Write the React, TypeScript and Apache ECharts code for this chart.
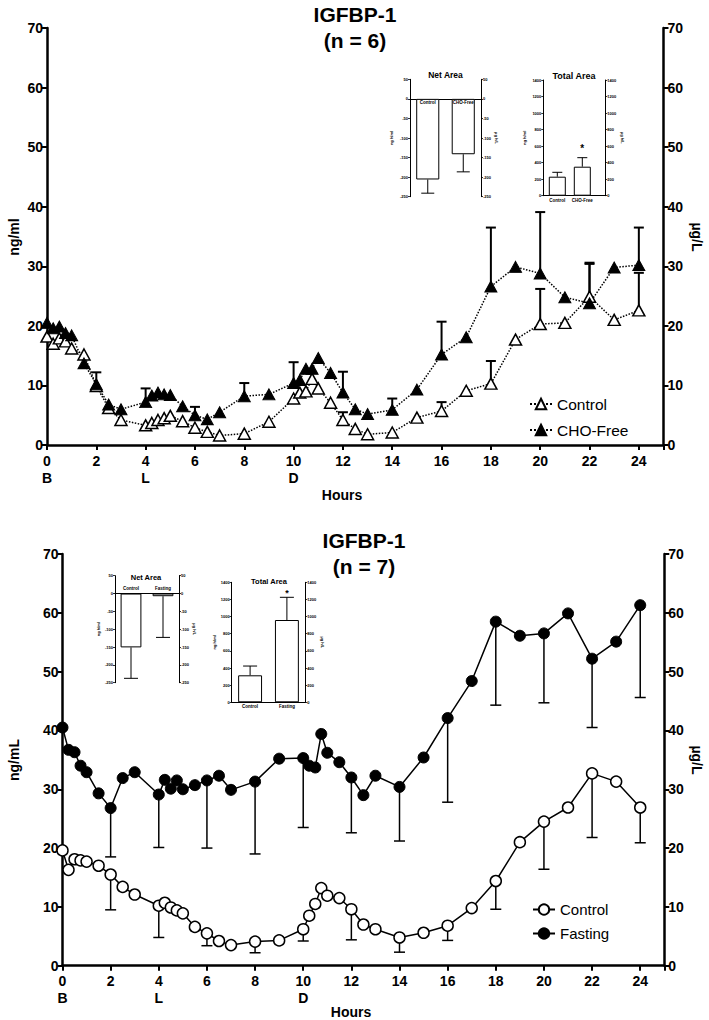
import React, { useEffect, useRef } from 'react';
import * as echarts from 'echarts';

const FONT = '"Liberation Sans", Arial, sans-serif';

// sampling times (hours)
const hours = [0, 0.25, 0.5, 0.75, 1, 1.5, 2, 2.5, 3, 4, 4.25, 4.5, 4.75, 5, 5.5, 6, 6.5, 7, 8, 9, 10, 10.25, 10.5, 10.75, 11, 11.5, 12, 12.5, 13, 14, 15, 16, 17, 18, 19, 20, 21, 22, 23, 24];
const mealLabels: Record<number, string> = { 0: 'B', 4: 'L', 10: 'D' };

// top panel (n = 6)
const topControl = [18.2, 17.0, 17.9, 17.4, 16.2, 15.2, 9.9, 6.2, 4.2, 3.3, 3.7, 4.2, 4.5, 4.9, 4.0, 2.9, 2.2, 1.6, 1.9, 3.9, 7.8, 8.8, 9.0, 11.1, 9.5, 7.1, 4.2, 2.7, 1.8, 2.1, 4.6, 5.7, 9.1, 10.3, 17.7, 20.3, 20.5, 24.9, 21.0, 22.6];
const topChoFree = [20.5, 19.6, 19.9, 18.8, 18.4, 13.7, 10.2, 6.8, 6.0, 7.2, 8.3, 8.8, 8.5, 8.4, 6.5, 5.0, 4.3, 5.5, 8.2, 8.5, 10.4, 10.9, 12.8, 12.8, 14.6, 12.1, 8.8, 6.0, 5.2, 5.9, 9.3, 15.2, 18.1, 26.6, 29.9, 28.8, 24.8, 23.8, 29.8, 30.2];
const topControlErrHours = [12, 16, 18, 20, 22, 24];
const topControlErrEnd = [5.5, 7.2, 14.1, 26.2, 30.4, 28.9];
const topChoErrHours = [2, 4, 6, 8, 10, 12, 14, 16, 18, 20, 22, 24];
const topChoErrEnd = [12.2, 9.5, 6.4, 10.4, 13.9, 12.3, 7.8, 20.7, 36.5, 39.1, 30.6, 36.5];

// bottom panel (n = 7)
const botControl = [19.6, 16.3, 18.1, 17.9, 17.7, 17.0, 15.5, 13.4, 12.1, 10.2, 10.7, 9.9, 9.4, 8.9, 6.6, 5.5, 4.2, 3.5, 4.1, 4.3, 6.2, 8.5, 10.5, 13.2, 11.9, 11.5, 9.6, 7.0, 6.2, 4.8, 5.6, 6.8, 9.8, 14.4, 21.0, 24.5, 26.9, 32.7, 31.3, 26.9];
const botFasting = [40.5, 36.7, 36.3, 34.0, 32.9, 29.3, 26.8, 31.9, 32.9, 29.1, 31.6, 30.1, 31.5, 30.0, 30.7, 31.5, 32.3, 29.9, 31.3, 35.2, 35.3, 34.0, 33.7, 39.4, 36.2, 34.6, 32.0, 29.0, 32.3, 30.4, 35.4, 42.1, 48.4, 58.5, 56.1, 56.5, 59.9, 52.2, 55.1, 61.3];
const botErrHours = [2, 4, 6, 8, 10, 12, 14, 16, 18, 20, 22, 24];
const botControlErrEnd = [9.5, 4.8, 3.4, 2.2, 4.2, 4.4, 2.3, 4.3, 9.6, 16.4, 21.8, 20.9];
const botFastingErrEnd = [18.5, 20.1, 20.0, 19.0, 23.5, 22.6, 21.2, 27.8, 44.3, 44.7, 40.5, 45.6];

// insets
const topNetCats = ['Control', 'CHO-Free'];
const topNetMean = [-206, -141.5];
const topNetErr = [-241, -186.5];
const topTotalCats = ['Control', 'CHO-Free'];
const topTotalPos = [0, 1];
const topTotalMean = [230, 351];
const topTotalErr = [283, 460];
const topTotalSig = ['', '*'];
const botNetCats = ['Control', 'Fasting'];
const botNetMean = [-151, -7.5];
const botNetErr = [-237.7, -123];
const botTotalCats = ['Control', 'Fasting'];
const botTotalMean = [315, 960];
const botTotalErr = [423, 1225];
const botTotalSig = ['', '*'];

const pairs = (xs: number[], ys: number[]) => xs.map((x, i) => [x, ys[i]]);
const errData = (errHours: number[], ends: number[], means: number[]) =>
  errHours.map((h, i) => [h, means[hours.indexOf(h)], ends[i]]);

function errRender(capHalf: number, lw: number, sig?: string[], sigDy = 6, sigFont = 9) {
  return (params: any, api: any) => {
    const p1 = api.coord([api.value(0), api.value(1)]);
    const p2 = api.coord([api.value(0), api.value(2)]);
    const st = { stroke: '#000', lineWidth: lw };
    const children: any[] = [
      { type: 'line', shape: { x1: p1[0], y1: p1[1], x2: p2[0], y2: p2[1] }, style: st },
      { type: 'line', shape: { x1: p2[0] - capHalf, y1: p2[1], x2: p2[0] + capHalf, y2: p2[1] }, style: st },
    ];
    if (sig && sig[params.dataIndex]) {
      children.push({
        type: 'text', x: p2[0], y: p2[1] - sigDy,
        style: { text: sig[params.dataIndex], fill: '#000', font: `bold ${sigFont}px ${FONT}`, textAlign: 'center', textVerticalAlign: 'middle' },
      });
    }
    return { type: 'group', children };
  };
}

function catLabelRender(cats: string[], dy: number) {
  return (params: any, api: any) => {
    const p = api.coord([api.value(0), 0]);
    return {
      type: 'text', x: p[0], y: p[1] + dy,
      style: { text: cats[params.dataIndex], fill: '#000', font: `bold 4.5px ${FONT}`, textAlign: 'center', textVerticalAlign: 'middle' },
    };
  };
}

function mainX(gridIndex: number) {
  return {
    type: 'value', gridIndex, min: 0, max: 25, interval: 2,
    axisLine: { onZero: false, lineStyle: { color: '#000', width: 2.5 } },
    axisTick: { length: 5, lineStyle: { color: '#000', width: 2 } },
    axisLabel: {
      color: '#000', fontSize: 14, fontWeight: 'bold', fontFamily: FONT, margin: 7, lineHeight: 17,
      formatter: (v: number) => (v > 24 ? '' : mealLabels[v] ? `${v}\n${mealLabels[v]}` : `${v}`),
    },
    splitLine: { show: false },
  };
}
function mainY(gridIndex: number, side: string) {
  return {
    type: 'value', gridIndex, min: 0, max: 70, interval: 10, position: side,
    axisLine: { show: true, onZero: false, lineStyle: { color: '#000', width: 2.5 } },
    axisTick: { show: true, length: 5, lineStyle: { color: '#000', width: 2 } },
    axisLabel: { color: '#000', fontSize: 14, fontWeight: 'bold', fontFamily: FONT, margin: 4 },
    splitLine: { show: false },
  };
}
function insetY(gridIndex: number, min: number, max: number, interval: number, side: string, name: string, nameGap: number) {
  return {
    type: 'value', gridIndex, min, max, interval, position: side,
    name, nameLocation: 'middle', nameGap, nameRotate: side === 'left' ? 90 : -90,
    nameTextStyle: { fontSize: 4, fontWeight: 'bold', color: '#000', fontFamily: FONT },
    axisLine: { show: true, onZero: false, lineStyle: { color: '#000', width: 1 } },
    axisTick: { show: true, length: 2, lineStyle: { color: '#000', width: 0.8 } },
    axisLabel: { fontSize: 4, fontWeight: 'bold', color: '#000', margin: 2, fontFamily: FONT, formatter: (v: number) => String(v) },
    splitLine: { show: false },
  };
}
function insetCatX(gridIndex: number, cats: string[], pos: string, yIdx: number, showLabels: boolean) {
  return {
    type: 'category', gridIndex, data: cats, position: pos,
    axisLine: { onZero: true, onZeroAxisIndex: yIdx, lineStyle: { color: '#000', width: 1 } },
    axisTick: { show: false },
    axisLabel: { show: showLabels, fontSize: 4.5, fontWeight: 'bold', color: '#000', margin: 2, fontFamily: FONT },
    splitLine: { show: false },
  };
}

const barStyle = { color: '#fff', borderColor: '#000', borderWidth: 1 };

const text = (x: number, y: number, t: string, size: number, bold = true, rotation = 0) => ({
  type: 'text', x, y, rotation,
  style: { text: t, fill: '#000', font: `${bold ? 'bold ' : ''}${size}px ${FONT}`, textAlign: 'center', textVerticalAlign: 'middle' },
});

export default function App() {
  const ref = useRef<HTMLDivElement>(null);
  useEffect(() => {
    if (!ref.current) return;
    const chart = echarts.init(ref.current, undefined, { renderer: 'svg' });
    const option: any = {
      animation: false,
      backgroundColor: '#fff',
      grid: [
        { left: 47, top: 28, width: 616.5, height: 417 },
        { left: 410, top: 79.3, width: 71, height: 117.4 },
        { left: 543.3, top: 80, width: 62, height: 115.7 },
        { left: 62.5, top: 554, width: 601.8, height: 411.7 },
        { left: 115, top: 575.7, width: 64, height: 107 },
        { left: 231.7, top: 582.3, width: 73.6, height: 120 },
      ],
      xAxis: [
        mainX(0),
        insetCatX(1, topNetCats, 'bottom', 2, false),
        {
          type: 'value', gridIndex: 2, min: -0.56, max: 1.92,
          axisLine: { onZero: true, onZeroAxisIndex: 4, lineStyle: { color: '#000', width: 1 } },
          axisTick: { show: false }, axisLabel: { show: false }, splitLine: { show: false },
        },
        mainX(3),
        insetCatX(4, botNetCats, 'top', 8, false),
        insetCatX(5, botTotalCats, 'bottom', 10, true),
      ],
      yAxis: [
        mainY(0, 'left'), mainY(0, 'right'),
        insetY(1, -250, 50, 50, 'left', 'ng h/ml', 17), insetY(1, -250, 50, 50, 'right', 'µg h/L', 12),
        insetY(2, 0, 1400, 200, 'left', 'ng h/ml', 17), insetY(2, 0, 1400, 200, 'right', 'µg h/L', 12),
        mainY(3, 'left'), mainY(3, 'right'),
        insetY(4, -250, 50, 50, 'left', 'ng h/ml', 15), insetY(4, -250, 50, 50, 'right', 'µg h/L', 12),
        insetY(5, 0, 1400, 200, 'left', 'ng h/ml', 14), insetY(5, 0, 1400, 200, 'right', 'µg h/L', 14),
      ],
      legend: [
        {
          data: ['Control', 'CHO-Free'], orient: 'vertical', left: 524, top: 391,
          itemWidth: 22, itemHeight: 13, itemGap: 10,
          textStyle: { fontSize: 15.5, color: '#000', fontFamily: FONT },
        },
        {
          data: ['Control2', 'Fasting'], orient: 'vertical', left: 527, top: 897,
          itemWidth: 22, itemHeight: 13, itemGap: 9,
          formatter: (n: string) => (n === 'Control2' ? 'Control' : n),
          textStyle: { fontSize: 15, color: '#000', fontFamily: FONT },
        },
      ],
      series: [
        {
          name: 'Control', type: 'line', xAxisIndex: 0, yAxisIndex: 0, data: pairs(hours, topControl),
          symbol: 'triangle', symbolSize: [12, 11], z: 4,
          itemStyle: { color: '#fff', borderColor: '#000', borderWidth: 1.5 },
          lineStyle: { color: '#000', width: 1.5, type: 'dotted' },
        },
        {
          name: 'CHO-Free', type: 'line', xAxisIndex: 0, yAxisIndex: 0, data: pairs(hours, topChoFree),
          symbol: 'triangle', symbolSize: [12, 11], z: 4,
          itemStyle: { color: '#000', borderColor: '#000', borderWidth: 1 },
          lineStyle: { color: '#000', width: 1.5, type: 'dotted' },
        },
        {
          name: 'topControlErr', type: 'custom', xAxisIndex: 0, yAxisIndex: 0, z: 2,
          data: errData(topControlErrHours, topControlErrEnd, topControl), renderItem: errRender(5, 2),
          encode: { x: 0, y: [1, 2] },
        },
        {
          name: 'topChoErr', type: 'custom', xAxisIndex: 0, yAxisIndex: 0, z: 2,
          data: errData(topChoErrHours, topChoErrEnd, topChoFree), renderItem: errRender(5, 2),
          encode: { x: 0, y: [1, 2] },
        },
        {
          name: 'topNet', type: 'bar', xAxisIndex: 1, yAxisIndex: 2, data: topNetMean, barWidth: '65%', itemStyle: barStyle,
        },
        {
          name: 'topNetErr', type: 'custom', xAxisIndex: 1, yAxisIndex: 2,
          data: topNetMean.map((m, i) => [i, m, topNetErr[i]]), renderItem: errRender(6.5, 1),
          encode: { x: 0, y: [1, 2] },
        },
        {
          name: 'topNetLabels', type: 'custom', xAxisIndex: 1, yAxisIndex: 2, z: 5,
          data: topNetCats.map((_, i) => [i, 0]), renderItem: catLabelRender(topNetCats, 4),
          encode: { x: 0, y: 1 },
        },
        {
          name: 'topTotal', type: 'bar', xAxisIndex: 2, yAxisIndex: 4, data: pairs(topTotalPos, topTotalMean), barWidth: 17,
          itemStyle: barStyle,
          label: {
            show: true, position: 'bottom', distance: 2, formatter: (p: any) => topTotalCats[p.dataIndex],
            fontSize: 4.5, fontWeight: 'bold', color: '#000', fontFamily: FONT,
          },
        },
        {
          name: 'topTotalErr', type: 'custom', xAxisIndex: 2, yAxisIndex: 4,
          data: topTotalMean.map((m, i) => [topTotalPos[i], m, topTotalErr[i]]),
          renderItem: errRender(5, 1, topTotalSig, 9, 10), encode: { x: 0, y: [1, 2] },
        },
        {
          name: 'Control2', type: 'line', xAxisIndex: 3, yAxisIndex: 6, data: pairs(hours, botControl),
          symbol: 'circle', symbolSize: 11, z: 4,
          itemStyle: { color: '#fff', borderColor: '#000', borderWidth: 1.5 },
          lineStyle: { color: '#000', width: 1.5 },
        },
        {
          name: 'Fasting', type: 'line', xAxisIndex: 3, yAxisIndex: 6, data: pairs(hours, botFasting),
          symbol: 'circle', symbolSize: 11, z: 4,
          itemStyle: { color: '#000', borderColor: '#000', borderWidth: 1 },
          lineStyle: { color: '#000', width: 1.5 },
        },
        {
          name: 'botControlErr', type: 'custom', xAxisIndex: 3, yAxisIndex: 6, z: 2,
          data: errData(botErrHours, botControlErrEnd, botControl), renderItem: errRender(5.5, 1.5),
          encode: { x: 0, y: [1, 2] },
        },
        {
          name: 'botFastingErr', type: 'custom', xAxisIndex: 3, yAxisIndex: 6, z: 2,
          data: errData(botErrHours, botFastingErrEnd, botFasting), renderItem: errRender(5.5, 1.5),
          encode: { x: 0, y: [1, 2] },
        },
        {
          name: 'botNet', type: 'bar', xAxisIndex: 4, yAxisIndex: 8, data: botNetMean, barWidth: '65%', itemStyle: barStyle,
        },
        {
          name: 'botNetErr', type: 'custom', xAxisIndex: 4, yAxisIndex: 8,
          data: botNetMean.map((m, i) => [i, m, botNetErr[i]]), renderItem: errRender(7, 1),
          encode: { x: 0, y: [1, 2] },
        },
        {
          name: 'botNetLabels', type: 'custom', xAxisIndex: 4, yAxisIndex: 8, z: 5,
          data: botNetCats.map((_, i) => [i, 0]), renderItem: catLabelRender(botNetCats, -5.5),
          encode: { x: 0, y: 1 },
        },
        {
          name: 'botTotal', type: 'bar', xAxisIndex: 5, yAxisIndex: 10, data: botTotalMean, barWidth: '65%', itemStyle: barStyle,
        },
        {
          name: 'botTotalErr', type: 'custom', xAxisIndex: 5, yAxisIndex: 10,
          data: botTotalMean.map((m, i) => [i, m, botTotalErr[i]]),
          renderItem: errRender(7, 1, botTotalSig, 4, 9), encode: { x: 0, y: [1, 2] },
        },
      ],
      graphic: [
        text(355, 14, 'IGFBP-1', 21),
        text(355, 40, '(n = 6)', 21),
        text(364, 540, 'IGFBP-1', 21),
        text(364, 566, '(n = 7)', 21),
        text(14, 237, 'ng/ml', 14, true, Math.PI / 2),
        text(697, 237, 'µg/L', 14, true, -Math.PI / 2),
        text(14, 760, 'ng/mL', 14, true, Math.PI / 2),
        text(697, 760, 'µg/L', 14, true, -Math.PI / 2),
        text(342, 495, 'Hours', 14),
        text(351, 1012, 'Hours', 14),
        text(445.5, 75, 'Net Area', 8.5),
        text(574, 75.5, 'Total Area', 9),
        text(146, 577, 'Net Area', 7.5),
        text(269, 581.5, 'Total Area', 7.5),
      ],
    };
    chart.setOption(option);
    return () => chart.dispose();
  }, []);
  return <div ref={ref} style={{ position: 'fixed', left: 0, top: 0, width: 709, height: 1020, background: '#fff' }} />;
}
